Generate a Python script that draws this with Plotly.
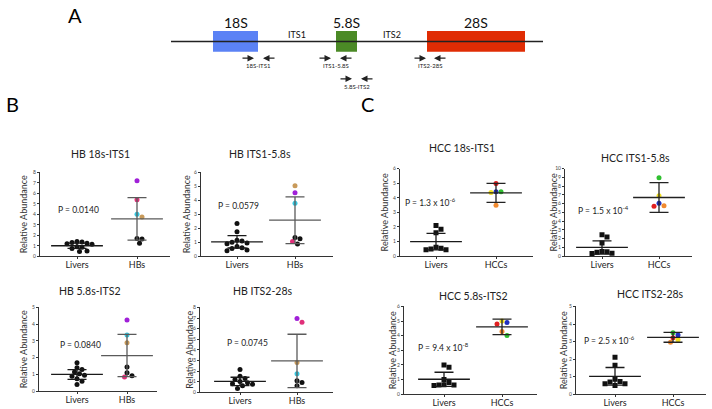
import numpy as np
import plotly.graph_objects as go

W, H = 712, 409
FONT = "Lato"

# ---------------- data ----------------
# Panel A: rRNA schematic (schematic units)
segments = ["18S", "5.8S", "28S"]
seg_start = [213, 336, 427]
seg_end = [258, 357, 525]
seg_colors = ["#5b82f5", "#4b8a26", "#e02c04"]
spacers = ["ITS1", "ITS2"]
transcript = [171, 543]
primers = ["18S-ITS1", "ITS1-5.8S", "5.8S-ITS2", "ITS2-28S"]
primer_fwd = [241, 318, 339, 413]
primer_rev = [276, 353, 374, 447]
primer_row = [0, 0, 1, 0]

cat_hb = ["Livers", "HBs"]
cat_hcc = ["Livers", "HCCs"]

titles = ["HB 18s-ITS1", "HB ITS1-5.8s", "HB 5.8s-ITS2", "HB ITS2-28s",
          "HCC 18s-ITS1", "HCC ITS1-5.8s", "HCC 5.8s-ITS2", "HCC ITS2-28s"]
pvalues = ["P = 0.0140", "P = 0.0579", "P = 0.0840", "P = 0.0745",
           "P = 1.3 x 10<sup>-6</sup>", "P = 1.5 x 10<sup>-4</sup>",
           "P = 9.4 x 10<sup>-8</sup>", "P = 2.5 x 10<sup>-6</sup>"]
y_max = [8, 6, 5, 8, 6, 10, 6, 5]

# Livers (control) values per panel
livers_hb_18s_its1 = [1.2, 1.15, 1.3, 1.25, 1.35, 1.4, 0.9, 0.85, 0.75, 0.45, 0.5]
livers_hb_its1_58s = [2.35, 1.75, 1.15, 1.1, 1.0, 0.95, 0.9, 0.7, 0.6, 0.55, 0.45, 0.4]
livers_hb_58s_its2 = [1.7, 1.4, 1.3, 1.15, 1.05, 0.95, 0.9, 0.75, 0.6, 0.4]
livers_hb_its2_28s = [2.15, 1.5, 1.3, 1.2, 1.0, 0.9, 0.8, 0.75, 0.6, 0.35]
livers_hcc_18s_its1 = [2.1, 1.85, 1.6, 0.62, 0.5, 0.45, 0.45, 0.55]
livers_hcc_its1_58s = [2.45, 2.2, 1.5, 0.55, 0.45, 0.35, 0.3, 0.5]
livers_hcc_58s_its2 = [2.0, 1.85, 1.0, 0.8, 0.62, 0.6, 0.62, 0.65]
livers_hcc_its2_28s = [2.1, 1.65, 0.85, 0.72, 0.6, 0.5, 0.6, 0.7]

# HB tumours, order: purple, pink, cyan, tan, black, black, black
hb_colors = ["#a020d8", "#e0307a", "#38c8e0", "#c89a5a", "#111111", "#111111", "#111111"]
hb_18s_its1 = [7.2, 5.4, 4.0, 3.75, 1.7, 1.65, 1.25]
hb_its1_58s = [4.55, 1.05, 3.8, 5.05, 1.35, 1.25, 0.88]
hb_58s_its2 = [4.25, 0.85, 3.35, 2.9, 1.45, 1.1, 0.92]
hb_its2_28s = [6.95, 6.6, 1.75, 2.8, 1.08, 0.92, 0.62]

# HCC tumours, order: red, blue, yellow, green, orange
hcc_colors = ["#e02020", "#2030c0", "#f2e020", "#30c030", "#f08a30"]
hcc_18s_its1 = [4.97, 4.42, 4.36, 4.42, 3.48]
hcc_its1_58s = [5.7, 6.05, 6.9, 8.95, 5.75]
hcc_58s_its2 = [4.8, 4.9, 5.0, 4.02, 4.28]
hcc_its2_28s = [3.22, 3.38, 3.1, 3.5, 2.96]

# mean and SD
livers_mean = [1.0, 1.03, 1.0, 1.02, 1.0, 1.0, 1.02, 1.02]
livers_sd = [0.25, 0.44, 0.29, 0.39, 0.57, 0.75, 0.48, 0.5]
tumour_mean = [3.57, 2.58, 2.13, 2.95, 4.34, 6.7, 4.6, 3.24]
tumour_sd = [2.03, 1.67, 1.26, 2.52, 0.65, 1.7, 0.53, 0.28]

livers_sets = [livers_hb_18s_its1, livers_hb_its1_58s, livers_hb_58s_its2, livers_hb_its2_28s,
               livers_hcc_18s_its1, livers_hcc_its1_58s, livers_hcc_58s_its2, livers_hcc_its2_28s]
tumour_sets = [hb_18s_its1, hb_its1_58s, hb_58s_its2, hb_its2_28s,
               hcc_18s_its1, hcc_its1_58s, hcc_58s_its2, hcc_its2_28s]

# ---------------- layout constants (pixels) ----------------
panels = [
    dict(L=40, R=170, T=172, B=257, p0=77, p1=137, tt=(100, 153), pp=(78, 210), yt=23),
    dict(L=201, R=333, T=172, B=257, p0=237, p1=295, tt=(260, 153), pp=(238, 206), yt=186),
    dict(L=39, R=157, T=309, B=394, p0=77, p1=127, tt=(90, 292), pp=(80, 347), yt=23),
    dict(L=200, R=333, T=309, B=395, p0=240, p1=297, tt=(262, 292), pp=(247, 345), yt=190),
    dict(L=400, R=533, T=168, B=257, p0=436, p1=496, tt=(462, 147), pp=(430, 202), yt=384),
    dict(L=565, R=692, T=168, B=257, p0=602, p1=659, tt=(635, 157), pp=(603, 210), yt=553),
    dict(L=404, R=537, T=308, B=397, p0=444, p1=502, tt=(473, 297), pp=(443, 349), yt=392),
    dict(L=576, R=706, T=308, B=397, p0=615, p1=673, tt=(650, 295), pp=(609, 342), yt=563),
]


def fx(px):
    return px / W


def fy(py):
    return 1 - py / H


def swarm(vals, ux, uy, d=5.0):
    vals = np.asarray(vals, float)
    order = np.argsort(-vals)
    placed = []
    offs = np.zeros(len(vals))
    step = d * 0.5
    cands = [0.0] + [s * j * step for j in range(1, 40) for s in (1, -1)]
    for i in order:
        y = vals[i] * uy
        for c in cands:
            if all((c - a) ** 2 + (y - b) ** 2 >= d * d * 0.95 for a, b in placed):
                break
        placed.append((c, y))
        offs[i] = c / ux
    return offs


def label(text, x, y, size, color="#222", angle=0, xref="paper", yref="paper"):
    return dict(text=text, x=x, y=y, xref=xref, yref=yref, showarrow=False,
                xanchor="center", yanchor="middle", textangle=angle,
                font=dict(size=size, color=color, family=FONT))


fig = go.Figure()
annotations = []
layout_axes = {}

for k in range(8):
    p = panels[k]
    n = k + 1
    xa = "x" if n == 1 else f"x{n}"
    ya = "y" if n == 1 else f"y{n}"
    unit = p["p1"] - p["p0"]
    uy = (p["B"] - p["T"]) / y_max[k]
    is_hcc = k >= 4
    cats = cat_hcc if is_hcc else cat_hb
    liv = livers_sets[k]
    tum = tumour_sets[k]
    tcol = hcc_colors if is_hcc else hb_colors

    lo = swarm(liv, unit, uy)
    to = swarm(tum, unit, uy)

    fig.add_trace(go.Scatter(
        x=0 + lo, y=liv, mode="markers", xaxis=xa, yaxis=ya,
        marker=dict(size=5, color="#111111", symbol="square" if is_hcc else "circle",
                    line=dict(width=0)),
        hoverinfo="y"))
    fig.add_trace(go.Scatter(
        x=1 + to, y=tum, mode="markers", xaxis=xa, yaxis=ya,
        marker=dict(size=5, color=tcol, line=dict(width=0)),
        hoverinfo="y"))

    for xpos, m, s, c in [(0, livers_mean[k], livers_sd[k], "#1a1a1a"),
                          (1, tumour_mean[k], tumour_sd[k], "#222222" if is_hcc else "#5a5a5a")]:
        fig.add_trace(go.Scatter(
            x=[xpos], y=[m], mode="markers", xaxis=xa, yaxis=ya,
            marker=dict(symbol="line-ew", size=37, color=c, line=dict(width=1.3, color=c)),
            error_y=dict(type="data", array=[s], symmetric=True, width=9.5,
                         thickness=1.3, color=c),
            hoverinfo="y"))

    xkey = "xaxis" if n == 1 else f"xaxis{n}"
    ykey = "yaxis" if n == 1 else f"yaxis{n}"
    layout_axes[xkey] = dict(
        domain=[fx(p["L"]), fx(p["R"])], anchor=ya,
        range=[(p["L"] - p["p0"]) / unit, (p["R"] - p["p0"]) / unit],
        tickvals=[0, 1], ticktext=cats, ticks="outside", ticklen=2, tickwidth=1,
        tickcolor="#333", showline=True, linecolor="#333", linewidth=1,
        showgrid=False, zeroline=False, ticklabelstandoff=-2,
        tickfont=dict(size=9, color="#222", family=FONT), fixedrange=True)
    layout_axes[ykey] = dict(
        domain=[fy(p["B"]), fy(p["T"])], anchor=xa,
        range=[0, y_max[k]], dtick=1, ticks="outside", ticklen=2, tickwidth=1,
        tickcolor="#333", showline=True, linecolor="#333", linewidth=1,
        showgrid=False, zeroline=False,
        tickfont=dict(size=5, color="#444", family=FONT), fixedrange=True)

    annotations.append(label(titles[k], fx(p["tt"][0]), fy(p["tt"][1]), 10.5))
    annotations.append(label(pvalues[k], fx(p["pp"][0]), fy(p["pp"][1]), 8.5))
    annotations.append(label("Relative Abundance", fx(p["yt"]),
                             fy((p["T"] + p["B"]) / 2), 9, "#333", -90))

# ---------------- Panel A schematic ----------------
row_y = [56, 77]
fig.add_trace(go.Scatter(x=transcript, y=[39, 39], mode="lines", xaxis="x9", yaxis="y9",
                         line=dict(color="#222", width=1.5), hoverinfo="skip"))
fig.add_trace(go.Bar(orientation="h", y=[39] * len(segments),
                     base=seg_start, x=[e - s for s, e in zip(seg_start, seg_end)],
                     width=21, marker=dict(color=seg_colors, line=dict(width=0)),
                     xaxis="x9", yaxis="y9", hoverinfo="skip"))
for name, s, e in zip(segments, seg_start, seg_end):
    annotations.append(label(name, (s + e) / 2, 20, 14, "#111", 0, "x9", "y9"))
for i, name in enumerate(spacers):
    annotations.append(label(name, (seg_end[i] + seg_start[i + 1]) / 2, 32, 9, "#111", 0,
                             "x9", "y9"))
alen = 13
for name, f, r, row in zip(primers, primer_fwd, primer_rev, primer_row):
    yy = row_y[row]
    for tail, head in [(f, f + alen), (r, r - alen)]:
        annotations.append(dict(text="", x=head, y=yy, ax=tail, ay=yy,
                                xref="x9", yref="y9", axref="x9", ayref="y9",
                                showarrow=True, arrowhead=2, arrowsize=1,
                                arrowwidth=1.3, arrowcolor="#222"))
    annotations.append(label(name, (f + r) / 2, yy + 7.5, 6, "#222", 0, "x9", "y9"))

layout_axes["xaxis9"] = dict(domain=[0, 1], range=[0, W], visible=False, anchor="y9",
                             fixedrange=True)
layout_axes["yaxis9"] = dict(domain=[fy(92), 1], range=[92, 0], visible=False, anchor="x9",
                             fixedrange=True)

# panel letters
for letter, (px, py) in [("A", (75, 12)), ("B", (12, 103)), ("C", (367, 103))]:
    annotations.append(label(letter, fx(px), fy(py), 20, "#000"))

fig.update_layout(
    width=W, height=H, margin=dict(l=0, r=0, t=0, b=0),
    paper_bgcolor="white", plot_bgcolor="white", showlegend=False,
    annotations=annotations, barmode="overlay", **layout_axes)

fig.write_html("out.html", config={"displayModeBar": False},
               post_script="document.body.style.margin='0';document.body.style.overflow='hidden';")
